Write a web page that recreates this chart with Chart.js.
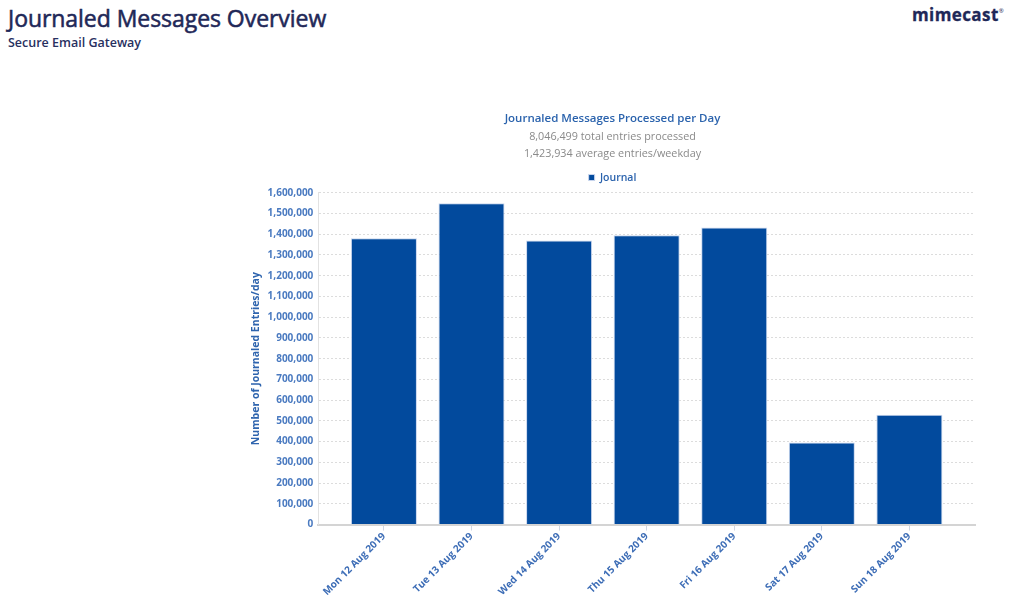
<!DOCTYPE html>
<html>
<head>
<meta charset="utf-8">
<script src="https://cdn.jsdelivr.net/npm/chart.js@4"></script>
<style>
  html, body { margin:0; padding:0; background:#fff; width:1012px; height:602px; overflow:hidden; font-family:"Open Sans", sans-serif; }
  #h1 { position:absolute; left:8px; top:2px; font-size:23px; color:#1f2858; font-weight:400; -webkit-text-stroke:0.55px #1f2858; letter-spacing:-0.05px; }
  #h2 { position:absolute; left:8px; top:34px; font-size:12.5px; color:#28305f; font-weight:600; }
  #logo { position:absolute; left:912px; top:3px; font-size:17px; color:#1f2858; font-weight:700; letter-spacing:0.4px; -webkit-text-stroke:0.3px #1f2858; }
  #logo sup { font-size:6px; vertical-align:top; position:relative; top:4px; font-weight:400; -webkit-text-stroke:0; }
  #wrap { position:absolute; left:247px; top:103px; width:731px; height:495px; }
</style>
</head>
<body>
<div id="h1">Journaled Messages Overview</div>
<div id="h2">Secure Email Gateway</div>
<div id="logo">mimecast<sup>®</sup></div>
<div id="wrap"><canvas id="c"></canvas></div>
<script>
// ---- data ----
const days = ['Mon 12 Aug 2019', 'Tue 13 Aug 2019', 'Wed 14 Aug 2019', 'Thu 15 Aug 2019', 'Fri 16 Aug 2019', 'Sat 17 Aug 2019', 'Sun 18 Aug 2019'];
const journal = [1381000, 1550000, 1370000, 1395000, 1433000, 396000, 529000];
const seriesName = 'Journal';
const chartTitle = 'Journaled Messages Processed per Day';
const chartSubtitle = ['8,046,499 total entries processed', '1,423,934 average entries/weekday'];
const yTitle = 'Number of Journaled Entries/day';
const yMin = 0, yMax = 1600000, yStep = 100000;

// extra padding on category axis (Highcharts-like min/max padding)
const PAD = 0.249;
const xPadPlugin = {
  id: 'xPad',
  afterLayout(chart) {
    const s = chart.scales.x;
    s._startValue = -0.5 - PAD;
    s._valueRange = days.length + 2 * PAD;
  }
};

new Chart(document.getElementById('c'), {
  type: 'bar',
  data: {
    labels: days,
    datasets: [{
      label: seriesName,
      data: journal,
      backgroundColor: '#024a9d',
      borderColor: '#c9d6ee',
      borderWidth: 1,
      categoryPercentage: 1,
      barPercentage: 0.754
    }]
  },
  options: {
    responsive: true,
    maintainAspectRatio: false,
    animation: false,
    layout: { padding: { left: 3, right: 3, top: 7, bottom: 0 } },
    plugins: {
      title: {
        display: true, text: chartTitle, color: '#2b63ad',
        font: { family: 'Open Sans', size: 11.5, weight: '600' },
        padding: { top: 2, bottom: 3 }
      },
      subtitle: {
        display: true, text: chartSubtitle, color: '#8a8a8a',
        font: { family: 'Open Sans', size: 10.8, weight: '400', lineHeight: 1.55 },
        padding: { top: 0, bottom: 4 }
      },
      legend: {
        display: true,
        labels: {
          usePointStyle: true, pointStyle: 'rect', boxWidth: 6, boxHeight: 6,
          color: '#2b63ad', font: { family: 'Open Sans', size: 10.5, weight: '600' }, padding: 6
        }
      },
      tooltip: { enabled: false }
    },
    scales: {
      x: {
        offset: true,
        grid: { display: true, drawOnChartArea: false, drawTicks: true, tickLength: 6, offset: false, color: '#cfd6e3' },
        border: { display: true, color: '#d4d4d4', width: 2 },
        ticks: {
          color: '#3d6db6', minRotation: 45, maxRotation: 45, autoSkip: false, padding: 0,
          font: { family: 'Open Sans', size: 10, weight: 'bold' }
        }
      },
      y: {
        min: yMin, max: yMax,
        ticks: {
          stepSize: yStep, color: '#4a7ac0', padding: 5,
          font: { family: 'Open Sans', size: 10, weight: 'bold' },
          callback: v => Number(v).toLocaleString('en-US')
        },
        grid: { color: '#dcdcdc', drawTicks: false, tickLength: 0 },
        border: { display: true, color: '#e2e2e2', width: 1, dash: [2, 2] },
        title: {
          display: true, text: yTitle, color: '#2e64ae',
          font: { family: 'Open Sans', size: 10.5, weight: 'bold' }, padding: { top: 0, bottom: 0 }
        }
      }
    }
  },
  plugins: [xPadPlugin]
});
</script>
</body>
</html>
